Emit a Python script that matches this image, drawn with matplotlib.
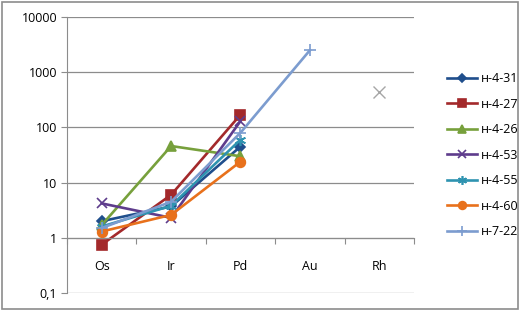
import numpy as np
from matplotlib import pyplot as plt
from matplotlib.patches import Rectangle

plt.rcParams['font.family'] = ['Open Sans', 'DejaVu Sans']

elements = ['Os', 'Ir', 'Pd', 'Au', 'Rh']
ytick_vals = [0.1, 1, 10, 100, 1000, 10000]
ytick_labels = ['0,1', '1', '10', '100', '1000', '10000']

# значения по образцам (Os, Ir, Pd, Au)
n_4_31 = [2.0, 3.7, 45]
n_4_27 = [0.75, 6.0, 170]
n_4_26 = [1.7, 46, 30]
n_4_53 = [4.2, 2.3, 130]
n_4_55 = [1.6, 3.8, 60]
n_4_60 = [1.3, 2.6, 24]
n_7_22 = [1.5, 4.5, 80, 2500]
rh_extra = 430  # отдельная точка Rh

series = [
    ('н-4-31', n_4_31, '#1F4E8C', 'D', 5),
    ('н-4-27', n_4_27, '#A3292B', 's', 7),
    ('н-4-26', n_4_26, '#77A03C', '^', 7),
    ('н-4-53', n_4_53, '#5E3C8C', 'x', 7),
    ('н-4-55', n_4_55, '#2E93B0', (6, 2, 0), 8),
    ('н-4-60', n_4_60, '#E8711C', 'o', 7),
    ('н-7-22', n_7_22, '#7C9CCF', '+', 9),
]

fig = plt.figure(figsize=(5.21, 3.12), dpi=100)
ax = fig.add_axes([0.1286, 0.0609, 0.666, 0.8846])

x = np.arange(len(elements))
for name, vals, col, mk, ms in series:
    ax.plot(x[:len(vals)], vals, color=col, lw=1.9, marker=mk, ms=ms,
            mew=1.2, label=name)
ax.plot([4], [rh_extra], ls='none', marker='x', color='#A6A6A6', ms=9, mew=1)

ax.set_yscale('log')
ax.set_ylim(0.1, 10000)
ax.set_xlim(-0.5, 4.5)
ax.set_yticks(ytick_vals)
ax.set_yticklabels(ytick_labels)
ax.yaxis.set_minor_locator(plt.NullLocator())
ax.yaxis.grid(True, color='#8C8C8C', lw=0.9)
ax.set_axisbelow(True)

ax.set_xticks(np.arange(-0.5, 4.6, 1))
ax.set_xticklabels([])
ax.set_xticks(x, minor=True)
ax.set_xticklabels(elements, minor=True)
ax.tick_params(axis='x', which='major', length=4, direction='out', color='#8C8C8C')
ax.tick_params(axis='x', which='minor', length=0, pad=16, labelsize=9)
ax.tick_params(axis='y', length=4, color='#8C8C8C', labelsize=9, pad=3)

for s in ['top', 'right']:
    ax.spines[s].set_visible(False)
ax.spines['bottom'].set_position(('data', 1))
ax.spines['bottom'].set_color('#8C8C8C')
ax.spines['left'].set_color('#8C8C8C')

leg = ax.legend(loc='center left', bbox_to_anchor=(1.062, 0.5), frameon=False,
                fontsize=9, handlelength=2.4, handletextpad=0.3, labelspacing=1.0,
                markerscale=0.8)

fig.patches.append(Rectangle((0.003, 0.01), 0.991, 0.984, transform=fig.transFigure,
                             fill=False, edgecolor='#8C8C8C', lw=1.2))

plt.savefig('out.png', dpi=100)
